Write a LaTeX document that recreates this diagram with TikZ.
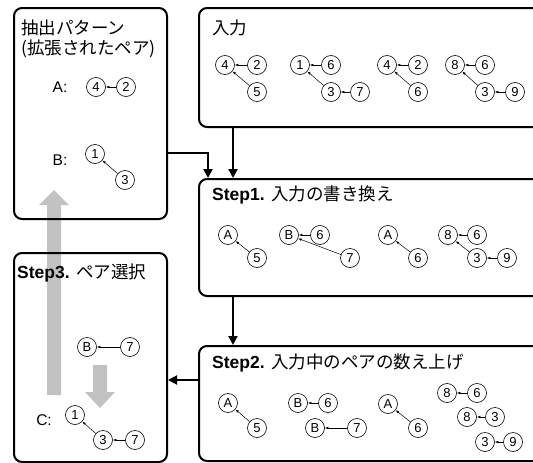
\documentclass[tikz,border=0pt]{standalone}
\usepackage{fontspec}
\setmainfont{Liberation Sans}
\newfontfamily\jpfont{Noto Sans CJK JP}
\usetikzlibrary{arrows.meta}
\definecolor{shadegray}{gray}{0.76}
\tikzset{
    panel/.style={draw=black, line width=2pt, rounded corners=8pt, anchor=north west, inner sep=0pt},
    num/.style={circle, draw=black, line width=0.6pt, minimum size=19pt, inner sep=0pt, font=\fontsize{13}{13}\selectfont},
    tag/.style={inner sep=0pt, font=\fontsize{15.5}{15.5}\selectfont},
    title/.style={anchor=west, inner sep=0pt, font=\fontsize{17.5}{17.5}\selectfont},
    link/.style={-{Latex[length=3.5pt,width=2.5pt]}, line width=0.5pt},
    flow/.style={-{Triangle[length=9pt,width=9pt]}, line width=2pt},
    shadearrow/.style={fill=shadegray, draw=none}
}

\begin{document}
\begin{tikzpicture}[x=1pt, y=-1pt]
    \useasboundingbox (0,0) rectangle (533,463);
    \clip (0,0) rectangle (533,463);

    % grey arrows (behind everything)
    \fill[shadearrow] (47,395) -- (47,205) -- (39,205) -- (54,190) -- (69,205) -- (61,205) -- (61,395) -- cycle;
    \fill[shadearrow] (93,365) -- (93,392) -- (85,392) -- (100,408) -- (115,392) -- (107,392) -- (107,365) -- cycle;

    % panels
    \node[panel, minimum width=153pt, minimum height=211pt] (pattern) at (13,7) {};
    \node[panel, minimum width=362pt, minimum height=119pt] (input) at (198,7) {};
    \node[panel, minimum width=362pt, minimum height=117pt] (step1) at (198,178) {};
    \node[panel, minimum width=362pt, minimum height=115pt] (step2) at (198,345) {};
    \node[panel, minimum width=153pt, minimum height=209pt] (step3) at (13,252) {};

    % titles
    \node[title] (t0a) at (21,28) {\jpfont 抽出パターン};
    \node[title] (t0b) at (21,49) {\jpfont (拡張されたペア)};
    \node[title] (t1) at (212,28) {\jpfont 入力};
    \node[title] (t2) at (212,195) {\textbf{Step1.} {\jpfont 入力の書き換え}};
    \node[title] (t3) at (212,363) {\textbf{Step2.} {\jpfont 入力中のペアの数え上げ}};
    \node[title] (t4) at (17,273) {\textbf{Step3.} {\jpfont ペア選択}};

    % flow between panels
    \draw[flow] ([xshift=35pt]input.south west) -- ([xshift=35pt]step1.north west);
    \draw[flow] ([yshift=-39.5pt]pattern.east) -| ([xshift=10pt]step1.north west);
    \draw[flow] ([xshift=35pt]step1.south west) -- ([xshift=35pt]step2.north west);
    \draw[flow] ([yshift=23.5pt]step2.west) -- ([yshift=23.5pt]step2.west -| step3.east);

    % extracted patterns
    \node[tag] (la) at (60,87) {A:};
    \node[num] (pa1) at (96,87) {4};
    \node[num] (pa2) at (126,87) {2};
    \node[tag] (lb) at (60,160) {B:};
    \node[num] (pb1) at (95,154) {1};
    \node[num] (pb2) at (125,180) {3};
    \draw[link] (pa2) -- (pa1);
    \draw[link] (pb2) -- (pb1);

    % input
    \node[num] (i1) at (225,65) {4};
    \node[num] (i2) at (257,65) {2};
    \node[num] (i3) at (257,92) {5};
    \node[num] (i4) at (300,65) {1};
    \node[num] (i5) at (331,65) {6};
    \node[num] (i6) at (331,92) {3};
    \node[num] (i7) at (360,92) {7};
    \node[num] (i8) at (387,65) {4};
    \node[num] (i9) at (418,65) {2};
    \node[num] (i10) at (418,92) {6};
    \node[num] (i11) at (455,65) {8};
    \node[num] (i12) at (485,65) {6};
    \node[num] (i13) at (485,92) {3};
    \node[num] (i14) at (515,92) {9};
    \draw[link] (i2) -- (i1);
    \draw[link] (i3) -- (i1);
    \draw[link] (i5) -- (i4);
    \draw[link] (i6) -- (i4);
    \draw[link] (i7) -- (i6);
    \draw[link] (i9) -- (i8);
    \draw[link] (i10) -- (i8);
    \draw[link] (i12) -- (i11);
    \draw[link] (i13) -- (i11);
    \draw[link] (i14) -- (i13);

    % step 1: rewritten input
    \node[num] (r1) at (228,235) {A};
    \node[num] (r2) at (257,258) {5};
    \node[num] (r3) at (289,235) {B};
    \node[num] (r4) at (320,235) {6};
    \node[num] (r5) at (350,258) {7};
    \node[num] (r6) at (388,235) {A};
    \node[num] (r7) at (418,258) {6};
    \node[num] (r8) at (448,235) {8};
    \node[num] (r9) at (477,235) {6};
    \node[num] (r10) at (477,258) {3};
    \node[num] (r11) at (507,258) {9};
    \draw[link] (r2) -- (r1);
    \draw[link] (r4) -- (r3);
    \draw[link] (r5) -- (r3);
    \draw[link] (r7) -- (r6);
    \draw[link] (r9) -- (r8);
    \draw[link] (r10) -- (r8);
    \draw[link] (r11) -- (r10);

    % step 2: counted pairs
    \node[num] (c1) at (228,403) {A};
    \node[num] (c2) at (257,428) {5};
    \node[num] (c3) at (298,403) {B};
    \node[num] (c4) at (328,403) {6};
    \node[num] (c5) at (315,428) {B};
    \node[num] (c6) at (357,428) {7};
    \node[num] (c7) at (388,404) {A};
    \node[num] (c8) at (418,428) {6};
    \node[num] (c9) at (447,393) {8};
    \node[num] (c10) at (477,393) {6};
    \node[num] (c11) at (467,417) {8};
    \node[num] (c12) at (495,417) {3};
    \node[num] (c13) at (485,442) {3};
    \node[num] (c14) at (513,442) {9};
    \draw[link] (c2) -- (c1);
    \draw[link] (c4) -- (c3);
    \draw[link] (c6) -- (c5);
    \draw[link] (c8) -- (c7);
    \draw[link] (c10) -- (c9);
    \draw[link] (c12) -- (c11);
    \draw[link] (c14) -- (c13);

    % step 3: selected pair
    \node[num] (s1) at (87,347) {B};
    \node[num] (s2) at (130,347) {7};
    \draw[link] (s2) -- (s1);
    \node[tag] (lc) at (44,420) {C:};
    \node[num] (s3) at (75,415) {1};
    \node[num] (s4) at (103,440) {3};
    \node[num] (s5) at (135,440) {7};
    \draw[link] (s4) -- (s3);
    \draw[link] (s5) -- (s4);
\end{tikzpicture}
\end{document}
